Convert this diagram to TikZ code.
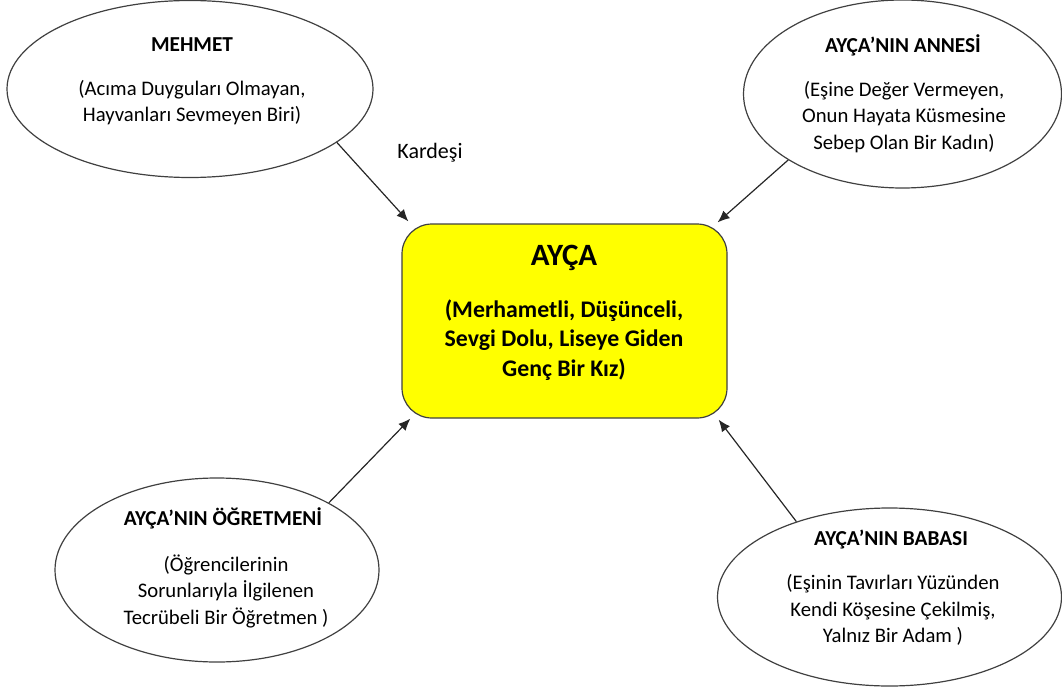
\documentclass[tikz,border=0pt]{standalone}
\usepackage{fontspec}
\setmainfont{Carlito}
\usetikzlibrary{arrows.meta,shapes.geometric}
\definecolor{boxyellow}{HTML}{FFFF00}
\definecolor{edge}{HTML}{404040}
\tikzset{
  oval/.style={draw=edge,line width=1.2pt,ellipse,inner sep=0pt},
  title/.style={font=\fontsize{21.3}{26}\selectfont\bfseries,align=center,inner sep=0pt},
  body/.style={font=\fontsize{20.7}{26.5}\selectfont,align=center,inner sep=0pt},
  arr/.style={draw=black!85,line width=1.2pt,-{Latex[length=12pt,width=10pt]}}
}
\begin{document}
\begin{tikzpicture}[x=1pt,y=-1pt]
\useasboundingbox (0,0) rectangle (1062,687);
% ellipses
\node[oval,minimum width=366pt,minimum height=177pt] (mehmet) at (190,89) {};
\node[oval,minimum width=318pt,minimum height=188pt] (annesi) at (902.5,94) {};
\node[oval,minimum width=324pt,minimum height=184pt] (ogretmen) at (217,570) {};
\node[oval,minimum width=344pt,minimum height=178pt] (babasi) at (889.5,597) {};
% central box
\node[draw=edge,line width=1.2pt,fill=boxyellow,rounded corners=30pt,minimum width=325pt,minimum height=194pt] (ayca) at (564.5,321) {};
% texts
\node[title] (t-mehmet) at (192,45) {MEHMET};
\node[body] (b-mehmet) at (192,102.5) {(Acıma Duyguları Olmayan,\\Hayvanları Sevmeyen Biri)};
\node[title] (t-annesi) at (903,45) {AYÇA’NIN ANNESİ};
\node[body] (b-annesi) at (904,117) {(Eşine Değer Vermeyen,\\Onun Hayata Küsmesine\\Sebep Olan Bir Kadın)};
\node[title] (t-ogretmen) at (223,518) {AYÇA’NIN ÖĞRETMENİ};
\node[body] (b-ogretmen) at (226,591) {(Öğrencilerinin\\Sorunlarıyla İlgilenen\\Tecrübeli Bir Öğretmen )};
\node[title] (t-babasi) at (891,540) {AYÇA’NIN BABASI};
\node[body] (b-babasi) at (893,610) {(Eşinin Tavırları Yüzünden\\Kendi Köşesine Çekilmiş,\\Yalnız Bir Adam )};
\node[font=\fontsize{31}{36}\selectfont\bfseries,inner sep=0pt] (t-ayca) at (564,258) {AYÇA};
\node[font=\fontsize{23.8}{29.5}\selectfont\bfseries,align=center,inner sep=0pt] (b-ayca) at (564,340) {(Merhametli, Düşünceli,\\Sevgi Dolu, Liseye Giden\\Genç Bir Kız)};
\node[font=\fontsize{22}{26}\selectfont,inner sep=0pt] (kardesi) at (430,153) {Kardeşi};
% arrow targets
\coordinate (c1) at ([shift={(7pt,2pt)}]ayca.north west);
\coordinate (c2) at ([shift={(-10pt,1pt)}]ayca.north east);
\coordinate (c3) at ([shift={(9pt,0pt)}]ayca.south west);
\coordinate (c4) at ([shift={(-9pt,-1pt)}]ayca.south east);
% arrows
\draw[arr] (mehmet.-20) -- (c1);
\draw[arr] (annesi.-150.5) -- (c2);
\draw[arr] (ogretmen.31.7) -- (c3);
\draw[arr] (babasi.141.3) -- (c4);
\end{tikzpicture}
\end{document}
